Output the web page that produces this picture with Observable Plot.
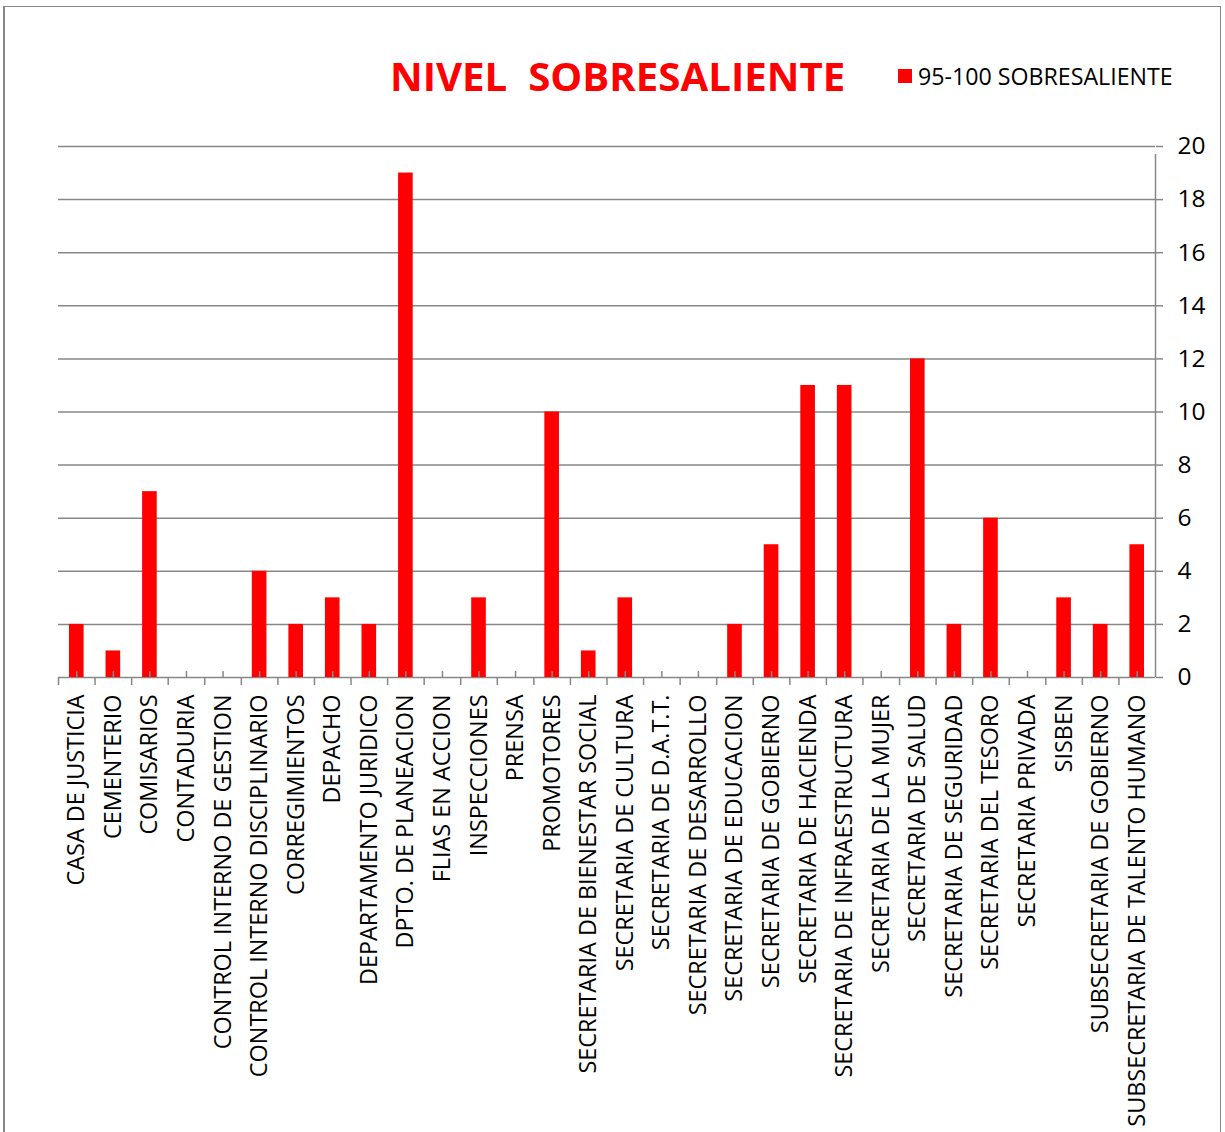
<!DOCTYPE html>
<html>
<head>
<meta charset="utf-8">
<script src="https://cdn.jsdelivr.net/npm/d3@7"></script>
<script src="https://cdn.jsdelivr.net/npm/@observablehq/plot@0.6"></script>
<style>
  html, body { margin: 0; padding: 0; background: #fff; }
  #wrap { position: relative; width: 1225px; height: 1132px; overflow: hidden; font-family: "Open Sans", sans-serif; }
  #border { position: absolute; left: 3px; top: 6px; width: 1218px; height: 1200px; border-left: 2px solid #878787; border-top: 1.5px solid #878787; border-right: 1.5px solid #878787; box-sizing: border-box; }
  #title { position: absolute; left: 390px; top: 51px; font-size: 40.2px; font-weight: bold; color: #ff0000; white-space: pre; line-height: 50px; }
  #legend { position: absolute; left: 898px; top: 61px; font-size: 23.2px; color: #000; white-space: pre; line-height: 30px; display: flex; align-items: center; }
  #legend .sw { width: 14px; height: 14px; background: #ff0000; margin-right: 6px; }
  #chart { position: absolute; left: 0; top: 0; }
</style>
</head>
<body>
<div id="wrap">
  <div id="border"></div>
  <div id="chart"></div>
  <div id="title">NIVEL  SOBRESALIENTE</div>
  <div id="legend"><span class="sw"></span><span id="legtext"></span></div>
</div>
<script>
const seriesName = "95-100 SOBRESALIENTE";
const categories = [
  "CASA DE JUSTICIA", "CEMENTERIO", "COMISARIOS", "CONTADURIA",
  "CONTROL INTERNO DE GESTION", "CONTROL INTERNO DISCIPLINARIO",
  "CORREGIMIENTOS", "DEPACHO", "DEPARTAMENTO JURIDICO", "DPTO. DE PLANEACION",
  "FLIAS EN ACCION", "INSPECCIONES", "PRENSA", "PROMOTORES",
  "SECRETARIA DE BIENESTAR SOCIAL", "SECRETARIA DE CULTURA",
  "SECRETARIA DE D.A.T.T.", "SECRETARIA DE DESARROLLO",
  "SECRETARIA DE EDUCACION", "SECRETARIA DE GOBIERNO",
  "SECRETARIA DE HACIENDA", "SECRETARIA DE INFRAESTRUCTURA",
  "SECRETARIA DE LA MUJER", "SECRETARIA DE SALUD",
  "SECRETARIA DE SEGURIDAD", "SECRETARIA DEL TESORO",
  "SECRETARIA PRIVADA", "SISBEN", "SUBSECRETARIA DE GOBIERNO",
  "SUBSECRETARIA DE TALENTO HUMANO"
];
const values = [2, 1, 7, 0, 0, 4, 2, 3, 2, 19, 0, 3, 0, 10, 1, 3, 0, 0, 2, 5, 11, 11, 0, 12, 2, 6, 0, 3, 2, 5];
const yTicks = [0, 2, 4, 6, 8, 10, 12, 14, 16, 18, 20];

document.getElementById("legtext").textContent = seriesName;

const data = categories.map((c, i) => ({category: c, value: values[i]}));

const W = 1225, H = 1132;
const mL = 58, mR = 70, mT = 146, mB = 455;
const step = (W - mL - mR) / categories.length;
const grid = "#878787";
const last = categories[categories.length - 1];

const chart = Plot.plot({
  width: W,
  height: H,
  marginLeft: mL,
  marginRight: mR,
  marginTop: mT,
  marginBottom: mB,
  style: {fontFamily: "'Open Sans', sans-serif", background: "transparent", color: "#000"},
  x: {domain: categories, paddingInner: 0.6, paddingOuter: 0.3, align: 0.5, round: false, label: null, axis: null},
  y: {domain: [0, 20], label: null, axis: null},
  marks: [
    Plot.ruleY(yTicks, {stroke: grid, strokeWidth: 1.5}),
    Plot.barY(data, {x: "category", y: "value", fill: "#ff0000"}),
    // category boundary ticks (downward)
    Plot.ruleX(categories, {x: d => d, dx: -step / 2, y1: 0, y2: 0, insetBottom: -8, stroke: grid, strokeWidth: 1.5}),
    // right vertical axis line with last boundary tick
    Plot.ruleX([last], {x: d => d, dx: step / 2, y1: 0, y2: 20, insetBottom: -8, stroke: grid, strokeWidth: 1.5}),
    // small centre ticks (upward)
    Plot.ruleX(categories, {x: d => d, y1: 0, y2: 0, insetTop: -6, stroke: grid, strokeWidth: 1.5}),
    Plot.axisX({
      anchor: "bottom",
      tickSize: 0,
      tickPadding: 17,
      tickRotate: -90,
      fontSize: 23.4,
      label: null,
      fill: "#000"
    }),
    Plot.axisY(yTicks, {
      anchor: "right",
      tickSize: 7,
      stroke: grid,
      strokeWidth: 1.5,
      tickPadding: 15,
      fontSize: 24.5,
      label: null,
      fill: "#000"
    })
  ]
});
document.getElementById("chart").appendChild(chart);
</script>
</body>
</html>
